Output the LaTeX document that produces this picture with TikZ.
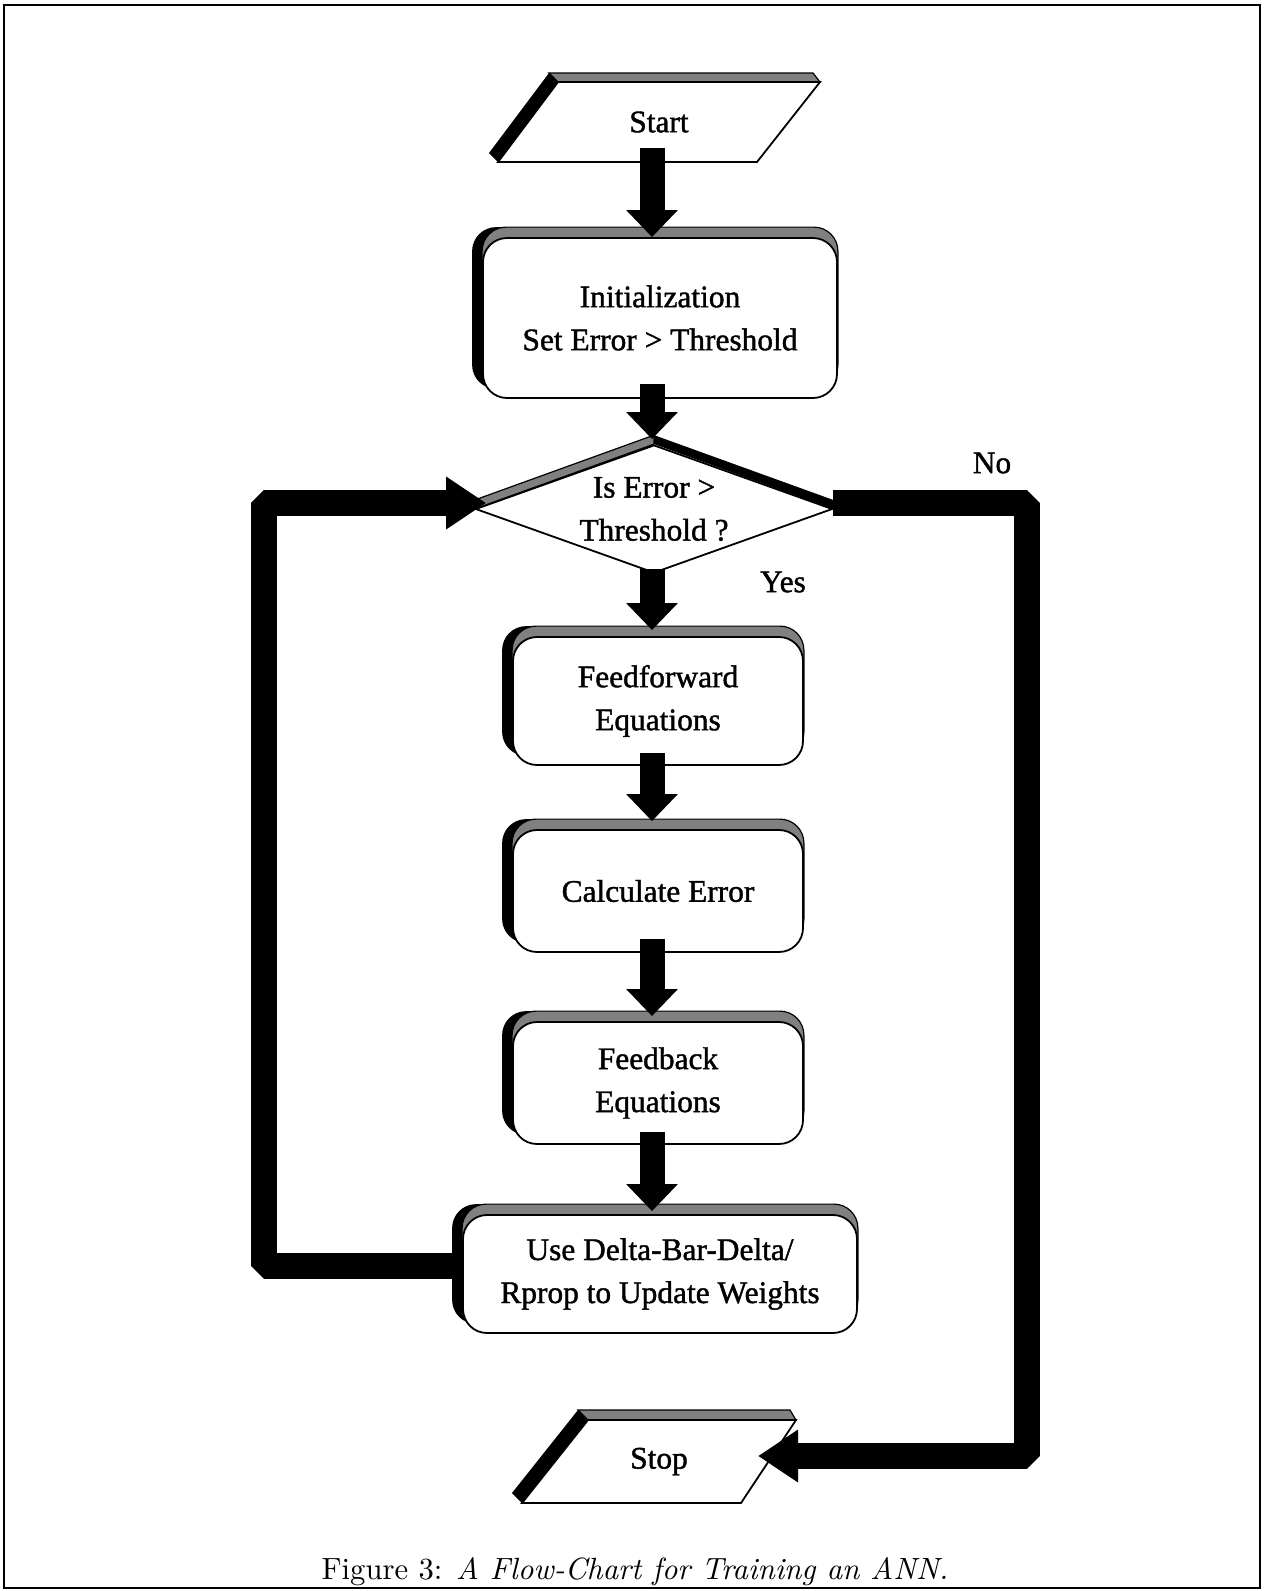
\documentclass[tikz,border=0pt]{standalone}
\usepackage{fontspec}
\usepackage{graphicx}
\newfontfamily\tms[FakeBold=1.3]{Liberation Serif}
\usetikzlibrary{shapes.geometric,arrows.meta,backgrounds,calc}
\begin{document}
\begin{tikzpicture}[x=0.5pt,y=-0.5pt,
 lbl/.style={font=\tms\fontsize{15.7}{21.5}\selectfont, align=center},
 rbox/.style={lbl, draw, line width=0.9pt, fill=white, rounded corners=12pt, inner sep=0pt},
 band/.style={fill=black!50, draw=black, line width=0.6pt},
 flow/.style={line width=12.5pt, -{Triangle[width=25pt,length=13.5pt]}},
 loopline/.style={line width=13pt, line join=bevel, -{Triangle[width=25pt,length=20pt]}},
]
\useasboundingbox (0,0) rectangle (1265,1591);
\draw[line width=1.1pt] (4,5) rectangle (1260,1588);

% nodes
\node[lbl, minimum height=40pt, inner sep=0pt] (start) at (659,122) {Start};
\node[rbox, minimum width=177pt, minimum height=80pt] (init) at (660,318) {Initialization\\Set Error > Threshold};
\node[lbl, diamond, draw, fill=white, line width=0.9pt, aspect=2.79, minimum width=178.5pt, minimum height=64pt, inner sep=0pt] (dia) at (654,509) {Is Error >\\Threshold ?};
\node[rbox, minimum width=145pt, minimum height=64pt] (ff) at (658,701) {Feedforward\\Equations};
\node[rbox, minimum width=145pt, minimum height=61pt] (ce) at (658,891) {Calculate Error};
\node[rbox, minimum width=145pt, minimum height=61pt] (fb) at (658,1083) {Feedback\\Equations};
\node[rbox, minimum width=197pt, minimum height=59pt] (up) at (660,1274) {Use Delta-Bar-Delta/\\Rprop to Update Weights};
\node[lbl, minimum height=41.5pt, inner sep=0pt] (stop) at (659,1461.5) {Stop};
\node[lbl] (no) at (992,463) {No};
\node[lbl] (yes) at (783,582) {Yes};
\node[inner sep=0pt] (cap) at (635,1572) {\scalebox{1.535}{Figure 3: \textit{A Flow-Chart for Training an ANN.}}};

% 3D shadows
\begin{scope}[on background layer]
 \fill (549,73) -- (558,82) -- (498,162) -- (489,153) -- cycle;
 \filldraw[band] (549,73) -- (813,73) -- (820,82) -- (558,82) -- cycle;
 \filldraw[fill=white, draw=black, line width=0.9pt] (558,82) -- (820,82) -- (757,162) -- (498,162) -- cycle;
 \foreach \n in {init,ff,ce,fb,up} {
   \fill[rounded corners=12pt] ([shift={(-5pt,5pt)}]\n.south west) rectangle ([shift={(-5pt,5pt)}]\n.north east);
   \filldraw[band, rounded corners=12pt] ([yshift=5pt]\n.south west) rectangle ([yshift=5pt]\n.north east);
 }
 \filldraw[band] (dia.west) -- (dia.north) -- ([yshift=4.5pt]dia.north) -- ([yshift=4.5pt]dia.west) -- cycle;
 \fill ([yshift=4.5pt]dia.north) -- ([yshift=4.5pt]dia.east) -- (dia.east) -- (dia.north) -- cycle;
 \fill (578,1410) -- (588,1420) -- (522,1503) -- (512,1493) -- cycle;
 \filldraw[band] (578,1410) -- (790,1410) -- (796,1420) -- (588,1420) -- cycle;
 \filldraw[fill=white, draw=black, line width=0.9pt] (588,1420) -- (796,1420) -- (741,1503) -- (522,1503) -- cycle;
\end{scope}

% block arrows
\draw[flow] ([shift={(-3.5pt,7pt)}]start.south) -- ([xshift=-4pt]init.north);
\draw[flow] ([shift={(-4pt,7.5pt)}]init.south) -- ([shift={(-1pt,2.5pt)}]dia.north);
\draw[flow] ([shift={(-1pt,2.5pt)}]dia.south) -- ([shift={(-3pt,3pt)}]ff.north);
\draw[flow] ([shift={(-3pt,6.5pt)}]ff.south) -- ([shift={(-3pt,4pt)}]ce.north);
\draw[flow] ([shift={(-3pt,7pt)}]ce.south) -- ([shift={(-3pt,2.5pt)}]fb.north);
\draw[flow] ([shift={(-3pt,6.5pt)}]fb.south) -- ([shift={(-4pt,1.5pt)}]up.north);

% loops
\draw[loopline] ([yshift=4pt]up.west) -- ++(-99pt,0pt) |- ([shift={(5.75pt,3pt)}]dia.west);
\draw[loopline] ([yshift=3pt]dia.east) -- ++(97pt,0pt) |- ([shift={(49.5pt,2.75pt)}]stop.center);
\end{tikzpicture}
\end{document}
